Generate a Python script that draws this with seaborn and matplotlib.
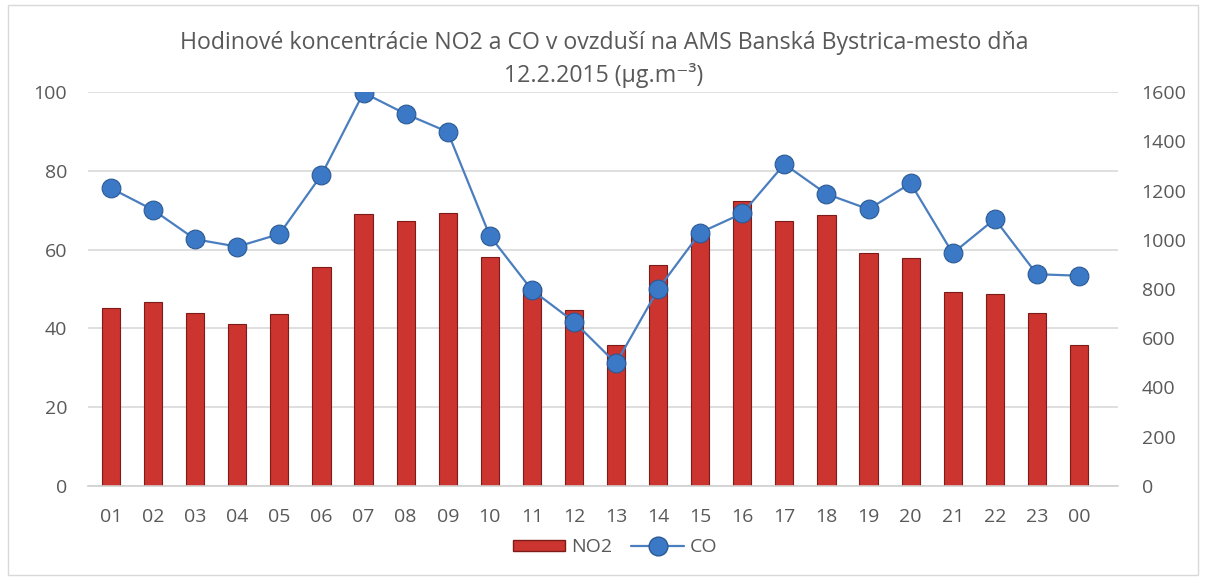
import numpy as np
import pandas as pd
import matplotlib
matplotlib.use("Agg")
import matplotlib.pyplot as plt
from matplotlib.patches import Rectangle
from matplotlib.lines import Line2D
import seaborn as sns

hours = ["01", "02", "03", "04", "05", "06", "07", "08", "09", "10", "11", "12",
         "13", "14", "15", "16", "17", "18", "19", "20", "21", "22", "23", "00"]
no2 = [45.2, 46.6, 44.0, 41.0, 43.7, 55.7, 69.0, 67.3, 69.4, 58.2, 50.5, 44.7,
       35.8, 56.1, 64.0, 72.3, 67.3, 68.8, 59.2, 57.9, 49.3, 48.7, 44.0, 35.8]
co = [1209, 1121, 1002, 972, 1023, 1263, 1597, 1511, 1438, 1016, 796, 667,
      498, 799, 1029, 1107, 1307, 1186, 1124, 1229, 945, 1084, 860, 854]

sns.set_theme(style="white")
plt.rcParams['font.family'] = ['Open Sans', 'DejaVu Sans']
text_col = "#595959"
tick_fs = 14

df = pd.DataFrame({"hour": hours, "NO2": no2, "CO": co})

fig = plt.figure(figsize=(12.08, 5.8), dpi=100)
# plot area: gridlines run a little past the last category on the right
ax = fig.add_axes([88 / 1208, 1 - 486 / 580, 1030 / 1208, 394 / 580])

sns.barplot(data=df, x="hour", y="NO2", order=hours, color="#cc342f",
            width=0.43, saturation=1, edgecolor="#7d1b18", linewidth=0.8, ax=ax, zorder=2)

ax.set_ylim(0, 100)
ax.set_yticks(range(0, 101, 20))
ax.yaxis.grid(True, color="#d9d9d9", linewidth=1.2, zorder=0)
ax.set_axisbelow(True)
for s in ["top", "right", "left"]:
    ax.spines[s].set_visible(False)
ax.spines["bottom"].set_color("#d0d0d0")
ax.spines["bottom"].set_linewidth(1.2)
ax.set_xlim(-0.5 - 2 / 42.09, len(hours) - 0.5 + 18 / 42.09)
ax.set_xlabel("")
ax.set_ylabel("")
ax.tick_params(axis="both", length=0, labelsize=tick_fs, labelcolor=text_col)
ax.tick_params(axis="y", pad=15)
ax.tick_params(axis="x", pad=16)

ax2 = ax.twinx()
sns.lineplot(x=np.arange(len(hours)), y=co, ax=ax2, color="#4a7ebf", linewidth=1.6,
             marker="o", markersize=13.5, markerfacecolor="#3b78c6",
             markeredgecolor="#2b5a94", markeredgewidth=0.8, zorder=3)
ax2.set_ylim(0, 1600)
ax2.set_yticks(range(0, 1601, 200))
for s in ["top", "right", "left", "bottom"]:
    ax2.spines[s].set_visible(False)
ax2.tick_params(axis="y", length=0, labelsize=tick_fs, labelcolor=text_col, pad=17)
ax2.set_ylabel("")
ax2.grid(False)

fig.text(0.5, 1 - 43 / 580, "Hodinové koncentrácie NO2 a CO v ovzduší na AMS Banská Bystrica-mesto dňa",
         ha="center", va="center", fontsize=16.7, color=text_col)
fig.text(0.5, 1 - 75 / 580, "12.2.2015 (µg.m⁻³)",
         ha="center", va="center", fontsize=16.7, color=text_col)

handles = [Rectangle((0, 0), 1, 1, facecolor="#cc342f", edgecolor="#7d1b18"),
           Line2D([], [], color="#4a7ebf", linewidth=1.6, marker="o", markersize=13.5,
                  markerfacecolor="#3b78c6", markeredgecolor="#2b5a94")]
leg = fig.legend(handles, ["NO2", "CO"], loc="center", bbox_to_anchor=(615 / 1208, 1 - 547 / 580),
                 ncol=2, frameon=False, fontsize=tick_fs, handlelength=2.7, handleheight=0.5,
                 columnspacing=1.0, handletextpad=0.3)
for t in leg.get_texts():
    t.set_color(text_col)

fig.patches.append(Rectangle((8 / 1208, 5 / 580), 1190 / 1208, 570 / 580, transform=fig.transFigure,
                             fill=False, edgecolor="#d9d9d9", linewidth=1))

fig.savefig("out.png", dpi=100)
